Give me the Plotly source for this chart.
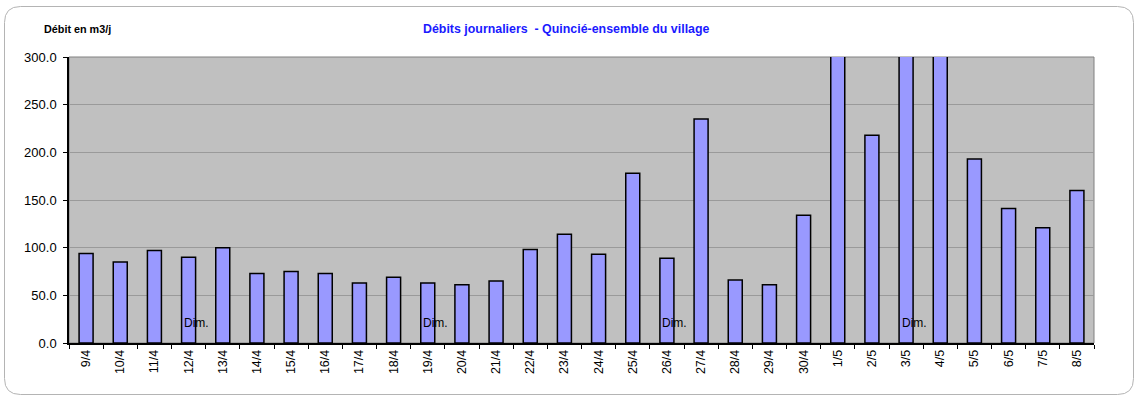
import plotly.graph_objects as go

# Daily flow (m3/day), 9 April to 8 May
dates = ["9/4", "10/4", "11/4", "12/4", "13/4", "14/4", "15/4", "16/4", "17/4", "18/4",
         "19/4", "20/4", "21/4", "22/4", "23/4", "24/4", "25/4", "26/4", "27/4", "28/4",
         "29/4", "30/4", "1/5", "2/5", "3/5", "4/5", "5/5", "6/5", "7/5", "8/5"]
debits = [94, 85, 97, 90, 100, 73, 75, 73, 63, 69,
          63, 61, 65, 98, 114, 93, 178, 89, 235, 66,
          61, 134, 325, 218, 340, 315, 193, 141, 121, 160]
# Sundays
dimanches = ["12/4", "19/4", "26/4", "3/5"]
y_ticks = [0, 50, 100, 150, 200, 250, 300]

FONT = "Liberation Sans, Arial, sans-serif"

fig = go.Figure()
fig.add_trace(go.Bar(
    x=dates, y=debits,
    marker=dict(color="#9999FF", line=dict(color="#000000", width=1.5)),
    hoverinfo="x+y",
))

for d in dimanches:
    fig.add_annotation(x=d, y=21, text="Dim.", showarrow=False, xshift=8,
                       font=dict(family=FONT, size=12, color="#000000"))

# Title and unit label
fig.add_annotation(xref="paper", yref="paper", x=0.485, y=1.0, yshift=28,
                   yanchor="middle",
                   text="<b>Débits journaliers  - Quincié-ensemble du village</b>",
                   showarrow=False, font=dict(family=FONT, size=12.4, color="#1a1aff"))
fig.add_annotation(xref="paper", yref="paper", x=-0.026, y=1.0, yshift=28,
                   xanchor="left", yanchor="middle", text="<b>Débit en m3/j</b>",
                   showarrow=False, font=dict(family=FONT, size=10.8, color="#000000"))

# Plot area outline
fig.add_shape(type="rect", xref="paper", yref="paper", x0=0, x1=1, y0=0, y1=1,
              line=dict(color="#808080", width=1), layer="below")

# Rounded frame around the whole chart (paper units relative to plot area)
pw, ph = 1025.0, 286.0
def px(x):
    return (x - 69) / pw
def py(y):
    return (343 - y) / ph
L, R, T, B, r = 4.5, 1133.5, 6.5, 394.5, 16
path = (f"M {px(L + r)},{py(T)} L {px(R - r)},{py(T)} "
        f"Q {px(R)},{py(T)} {px(R)},{py(T + r)} L {px(R)},{py(B - r)} "
        f"Q {px(R)},{py(B)} {px(R - r)},{py(B)} L {px(L + r)},{py(B)} "
        f"Q {px(L)},{py(B)} {px(L)},{py(B - r)} L {px(L)},{py(T + r)} "
        f"Q {px(L)},{py(T)} {px(L + r)},{py(T)} Z")
fig.add_shape(type="path", xref="paper", yref="paper", path=path,
              line=dict(color="#b4b4b4", width=1))

fig.update_layout(
    width=1138, height=397,
    margin=dict(l=69, r=44, t=57, b=54),
    paper_bgcolor="#ffffff",
    plot_bgcolor="#c0c0c0",
    bargap=0.59,
    showlegend=False,
    font=dict(family=FONT, size=12, color="#000000"),
)
fig.update_xaxes(
    type="category", tickangle=-90, tickson="boundaries",
    ticks="outside", ticklen=4, tickcolor="#000000",
    showline=True, linecolor="#000000", linewidth=1.5,
    showgrid=False, tickfont=dict(family=FONT, size=12.5, color="#000000"),
)
fig.update_yaxes(
    range=[0, 300], tickvals=y_ticks, ticktext=[f"{v:.1f}" for v in y_ticks],
    ticks="outside", ticklen=4, tickcolor="#000000", ticklabelstandoff=4,
    showline=True, linecolor="#000000", linewidth=1.5,
    showgrid=True, gridcolor="#9a9a9a", gridwidth=1, zeroline=False,
    tickfont=dict(family=FONT, size=13, color="#000000"),
)

fig.write_html("out.html")
